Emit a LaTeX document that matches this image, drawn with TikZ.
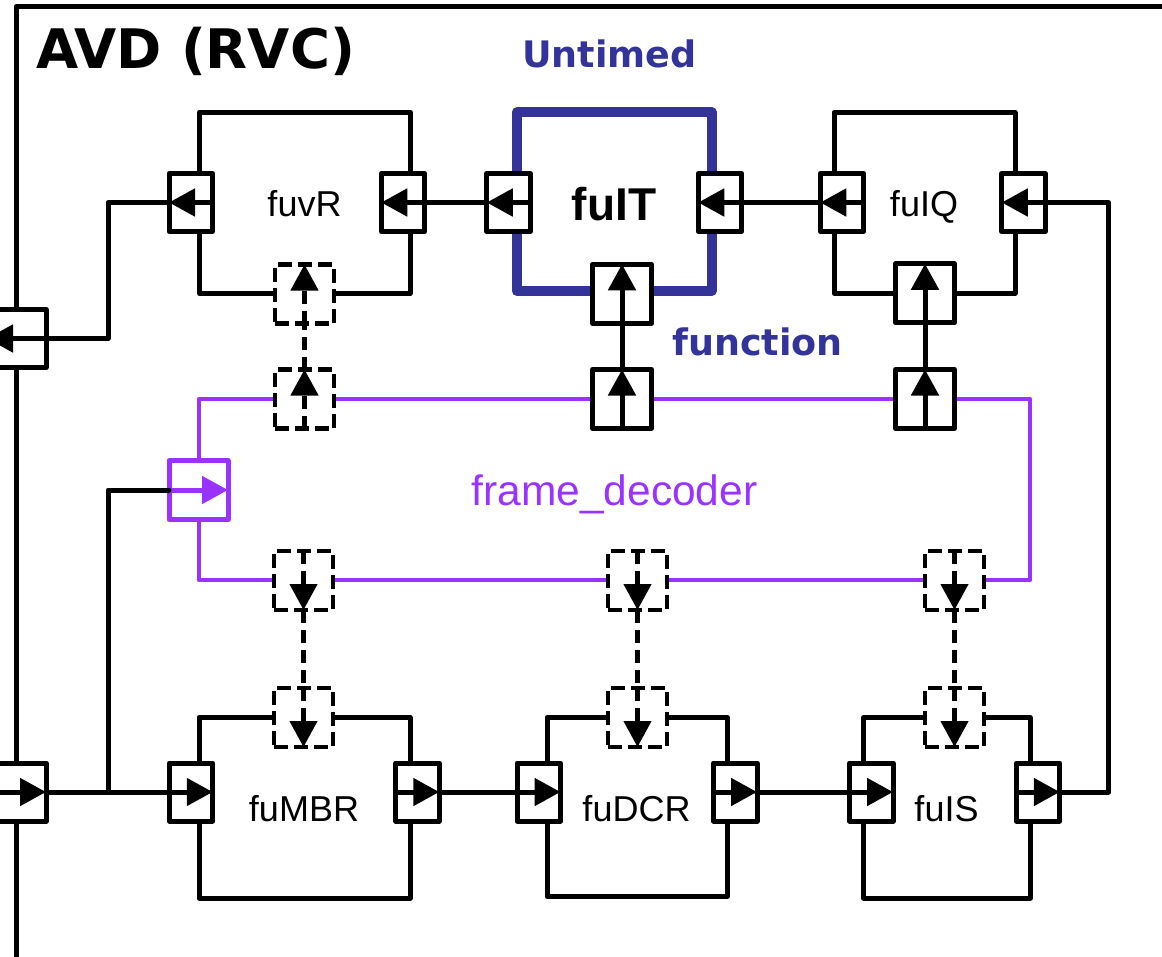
\documentclass[tikz,border=0pt]{standalone}
\usepackage{fontspec}
\setmainfont{Liberation Sans}
\newfontfamily\dvsans{DejaVu Sans}
\usetikzlibrary{arrows.meta}
\definecolor{ublue}{RGB}{51,51,153}
\definecolor{purp}{RGB}{153,51,255}
\tikzset{
  wire/.style={line width=5pt, line join=round, line cap=round},
  dwire/.style={line width=4.5pt, dash pattern=on 13pt off 7pt},
  fubox/.style={draw, line width=5pt, line join=round, inner sep=0pt, outer sep=0pt},
  hport/.style={draw, fill=white, line width=5pt, line join=round, minimum width=43.5pt, minimum height=58pt, inner sep=0pt, outer sep=0pt},
  vport/.style={draw, fill=white, line width=5pt, line join=round, minimum width=59pt, minimum height=59pt, inner sep=0pt, outer sep=0pt},
  dport/.style={vport, line width=4.5pt, dash pattern=on 14pt off 6pt},
  fport/.style={draw, fill=white, line width=5pt, line join=round, minimum width=59pt, minimum height=58pt, inner sep=0pt, outer sep=0pt},
  tri/.style={line width=5pt, -{Triangle[length=26pt,width=27pt]}},
  dtri/.style={line width=4.5pt, dash pattern=on 13pt off 7pt, -{Triangle[length=26pt,width=27pt]}},
  lbl/.style={inner sep=0pt, anchor=base, font=\fontsize{36}{40}\selectfont},
  vbold/.style={inner sep=0pt, anchor=base west, text=ublue, font=\dvsans\bfseries\fontsize{36.5}{40}\selectfont},
}
\begin{document}
\begin{tikzpicture}[x=1pt,y=-1pt]
\useasboundingbox (0,0) rectangle (1162,956);
\clip (0,0) rectangle (1162,956);
% outer frame
\coordinate (frBL) at (16,970);
\coordinate (frTL) at (16,6.5);
\coordinate (frTR) at (1175,6.5);
\draw[wire] (frBL) -- (frTL) -- (frTR);
\node[inner sep=0pt, anchor=base west, font=\dvsans\bfseries\fontsize{54.5}{58}\selectfont] (title) at (36,68.5) {AVD (RVC)};
\node[vbold] (untimed) at (522,67.7) {Untimed};
\node[vbold] (function) at (672,355) {function};

% boxes
\node[fubox, minimum width=210.5pt, minimum height=181.5pt] (bR) at (304.75,202.75) {};
\node[draw=ublue, line width=10pt, line join=round, inner sep=0pt, outer sep=0pt, minimum width=195pt, minimum height=178.7pt] (bT) at (614.2,201.65) {};
\node[fubox, minimum width=181pt, minimum height=180.5pt] (bQ) at (924.5,202.75) {};
\node[draw=purp, line width=4.5pt, line join=round, inner sep=0pt, outer sep=0pt, minimum width=831pt, minimum height=181pt] (dec) at (614.5,489.5) {};
\node[fubox, minimum width=211pt, minimum height=180.5pt] (bM) at (304.5,807.75) {};
\node[fubox, minimum width=180.5pt, minimum height=179pt] (bD) at (637.25,807) {};
\node[fubox, minimum width=166.5pt, minimum height=180.5pt] (bS) at (946.75,807.75) {};

% labels
\node[lbl] (tR) at (304.5,216.7) {fuvR};
\node[lbl, font=\bfseries\fontsize{46}{50}\selectfont] (tT) at (614,220) {fuIT};
\node[lbl] (tQ) at (924,216.7) {fuIQ};
\node[lbl, text=purp, font=\fontsize{42.5}{46}\selectfont] (tDec) at (614.5,505) {frame\_decoder};
\node[lbl] (tM) at (304,821.7) {fuMBR};
\node[lbl] (tD) at (636.5,821.5) {fuDCR};
\node[lbl] (tS) at (946.5,821.7) {fuIS};

% frame ports
\node[fport] (FL1) at (16.5,338.5) {};
\node[fport] (FL2) at (16.5,792) {};
% top row ports
\node[hport] (R1) at (190.75,202.5) {};
\node[hport] (R2) at (403,202.5) {};
\node[hport] (T1) at (508.5,202.5) {};
\node[hport] (T2) at (720,202.5) {};
\node[hport] (Q1) at (842,202.5) {};
\node[hport] (Q2) at (1023.5,202.5) {};
\node[dport] (RB) at (304.5,294) {};
\node[vport] (TB) at (622,293.75) {};
\node[vport] (QB) at (925,293.25) {};
% decoder ports
\node[dport] (DT1) at (304.5,399) {};
\node[vport] (DT2) at (622,399) {};
\node[vport] (DT3) at (925,399) {};
\node[vport, draw=purp] (DL) at (198.5,490) {};
\node[dport] (DB1) at (303.5,580.5) {};
\node[dport] (DB2) at (637.5,580.5) {};
\node[dport] (DB3) at (954.5,580.5) {};
% bottom row ports
\node[dport] (MT) at (303.5,717.5) {};
\node[dport] (DCT) at (637.5,717.5) {};
\node[dport] (IST) at (954.5,717.5) {};
\node[hport] (M1) at (191,792) {};
\node[hport] (M2) at (417.5,792) {};
\node[hport] (D1) at (538.75,792) {};
\node[hport] (D2) at (735.25,792) {};
\node[hport] (S1) at (871.25,792) {};
\node[hport] (S2) at (1038,792) {};

% arrows inside ports
\foreach \p in {FL1,R1,R2,T1,T2,Q1,Q2} \draw[tri] (\p.east) -- (\p.west);
\foreach \p in {FL2,M1,M2,D1,D2,S1,S2} \draw[tri] (\p.west) -- (\p.east);
\foreach \p in {TB,QB,DT2,DT3} \draw[tri] (\p.south) -- (\p.north);
\foreach \p in {RB,DT1} \draw[dtri] (\p.south) -- (\p.north);
\foreach \p in {DB1,DB2,DB3,MT,DCT,IST} \draw[dtri] (\p.north) -- (\p.south);
\draw[tri, draw=purp, fill=purp] (DL.west) -- (DL.east);

% connectors
\coordinate (kA) at (108,338.5);
\coordinate (kB) at (108,792);
\coordinate (kC) at (1108.5,792);
\draw[wire] (R1.west) -| (kA) -- (FL1.east);
\draw[wire] (T1.west) -- (R2.east);
\draw[wire] (Q1.west) -- (T2.east);
\draw[wire] (S2.east) -- (kC) |- (Q2.east);
\draw[wire] (FL2.east) -- (M1.west);
\draw[wire] (kB) |- (DL.west);
\draw[wire] (M2.east) -- (D1.west);
\draw[wire] (D2.east) -- (S1.west);
\draw[wire] (DT2.north) -- (TB.south);
\draw[wire] (DT3.north) -- (QB.south);
\draw[dwire] (DT1.north) -- (RB.south);
\draw[dwire] (DB1.south) -- (MT.north);
\draw[dwire] (DB2.south) -- (DCT.north);
\draw[dwire] (DB3.south) -- (IST.north);
\end{tikzpicture}
\end{document}
